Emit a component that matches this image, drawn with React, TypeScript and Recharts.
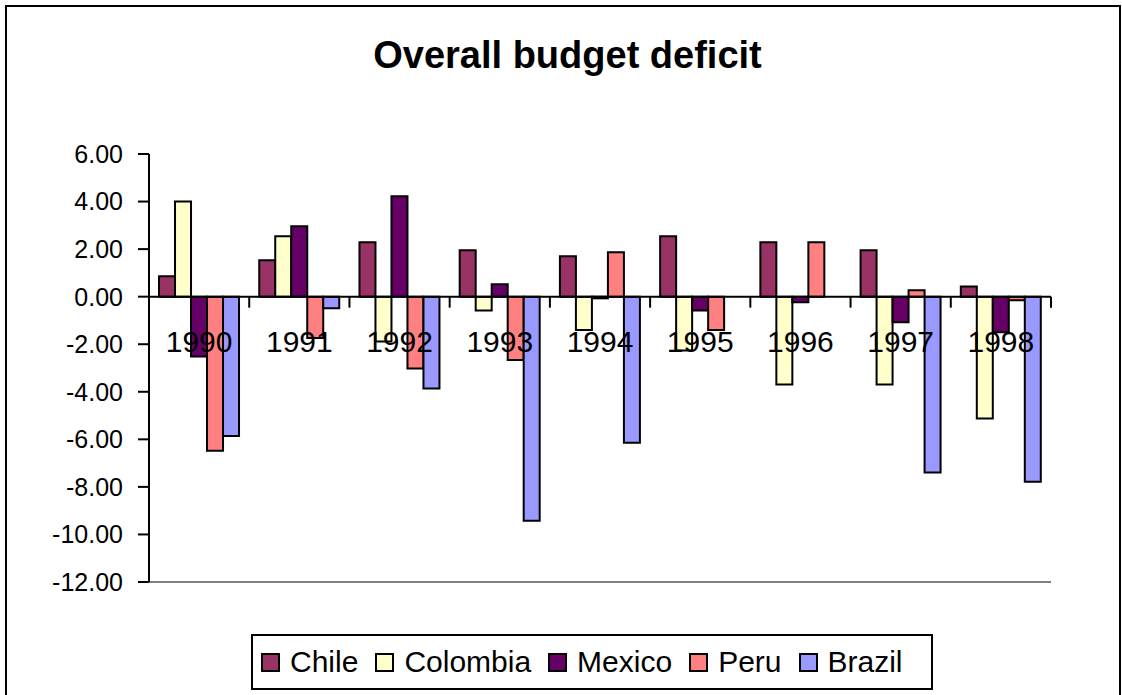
import { BarChart, Bar, XAxis, YAxis, ReferenceLine } from "recharts";

const years = ["1990", "1991", "1992", "1993", "1994", "1995", "1996", "1997", "1998"];
const chile = [0.86, 1.53, 2.29, 1.95, 1.7, 2.54, 2.29, 1.95, 0.43];
const colombia = [4.0, 2.54, -1.89, -0.58, -1.4, -2.26, -3.69, -3.69, -5.12];
const mexico = [-2.52, 2.96, 4.22, 0.52, -0.07, -0.58, -0.24, -1.08, -1.5];
const peru = [-6.48, -1.74, -3.02, -2.66, 1.87, -1.4, 2.29, 0.27, -0.15];
const brazil = [-5.86, -0.49, -3.86, -9.42, -6.14, null, null, -7.4, -7.78];
const yTicks = [6, 4, 2, 0, -2, -4, -6, -8, -10, -12];

const SERIES = [
  { key: "Chile", color: "#993366" },
  { key: "Colombia", color: "#FFFFCC" },
  { key: "Mexico", color: "#660066" },
  { key: "Peru", color: "#FF8080" },
  { key: "Brazil", color: "#9999FF" },
];

const data = years.map((year, i) => ({
  year,
  Chile: chile[i],
  Colombia: colombia[i],
  Mexico: mexico[i],
  Peru: peru[i],
  Brazil: brazil[i],
}));

const FONT = "Arial, 'Liberation Sans', sans-serif";
const W = 1122;
const H = 695;
const M = { top: 154, right: 71, bottom: 112, left: 69 };
const Y_AXIS_W = 80;
const plotH = H - M.top - M.bottom - 1;
const plotW = W - M.left - Y_AXIS_W - M.right;
const Y_MAX = 6;
const Y_MIN = -12;
const zeroY = M.top + (plotH * Y_MAX) / (Y_MAX - Y_MIN);
const band = plotW / years.length;

// category labels and tick marks sit on the zero line, like the Excel original
const YearTick = (props: any) => {
  const { x, payload, index } = props;
  return (
    <g>
      <line x1={x - band / 2} x2={x - band / 2} y1={zeroY} y2={zeroY + 11} stroke="#000" strokeWidth={2} />
      {index === years.length - 1 && (
        <line x1={x + band / 2} x2={x + band / 2} y1={zeroY} y2={zeroY + 11} stroke="#000" strokeWidth={2} />
      )}
      <text x={x} y={zeroY + 55} textAnchor="middle" fontSize={30} fontFamily={FONT} fill="#000">
        {payload.value}
      </text>
    </g>
  );
};

export default function App() {
  return (
    <div style={{ position: "absolute", left: 0, top: 0, width: W, height: H, overflow: "hidden", background: "#fff" }}>
      <div
        style={{
          position: "absolute",
          left: 5,
          top: 5,
          width: 1112,
          height: 720,
          border: "2px solid #000",
        }}
      />
      <div
        style={{
          position: "absolute",
          left: 0,
          top: 36,
          width: 1135,
          textAlign: "center",
          fontFamily: FONT,
          fontWeight: "bold",
          fontSize: 38,
          lineHeight: "38px",
        }}
      >
        Overall budget deficit
      </div>
      <div style={{ position: "absolute", left: 0, top: 0 }}>
        <BarChart width={W} height={H} data={data} margin={M} barCategoryGap="10%" barGap={0}>
          <XAxis
            dataKey="year"
            height={1}
            axisLine={{ stroke: "#808080", strokeWidth: 2 }}
            tickLine={false}
            tick={<YearTick />}
            interval={0}
          />
          <XAxis xAxisId="top" dataKey="year" orientation="top" height={0} tick={false} tickLine={false}
            axisLine={{ stroke: "#808080", strokeWidth: 2 }} />
          <YAxis
            width={Y_AXIS_W}
            domain={[Y_MIN, Y_MAX]}
            ticks={yTicks}
            interval={0}
            tickFormatter={(v: number) => v.toFixed(2)}
            axisLine={{ stroke: "#000", strokeWidth: 2 }}
            tickLine={{ stroke: "#000", strokeWidth: 2 }}
            tickSize={11}
            tickMargin={15}
            tick={{ fontSize: 25, fontFamily: FONT, fill: "#000" }}
          />
          <YAxis yAxisId="right" orientation="right" width={0} domain={[Y_MIN, Y_MAX]} tick={false} tickLine={false}
            axisLine={{ stroke: "#808080", strokeWidth: 2 }} />
          {SERIES.map((s) => (
            <Bar
              key={s.key}
              dataKey={s.key}
              fill={s.color}
              stroke="#000"
              strokeWidth={2}
              isAnimationActive={false}
            />
          ))}
          <ReferenceLine y={0} stroke="#000" strokeWidth={2} />
        </BarChart>
      </div>
      <div
        style={{
          position: "absolute",
          left: 251,
          top: 634,
          width: 670,
          height: 52,
          border: "2px solid #000",
          display: "flex",
          alignItems: "center",
          paddingLeft: 8,
          boxSizing: "content-box",
          fontFamily: FONT,
          fontSize: 30,
        }}
      >
        {SERIES.map((s) => (
          <span key={s.key} style={{ display: "flex", alignItems: "center", marginRight: 17 }}>
            <span
              style={{
                display: "inline-block",
                width: 15,
                height: 15,
                background: s.color,
                border: "2px solid #000",
                marginRight: 10,
              }}
            />
            {s.key}
          </span>
        ))}
      </div>
    </div>
  );
}
